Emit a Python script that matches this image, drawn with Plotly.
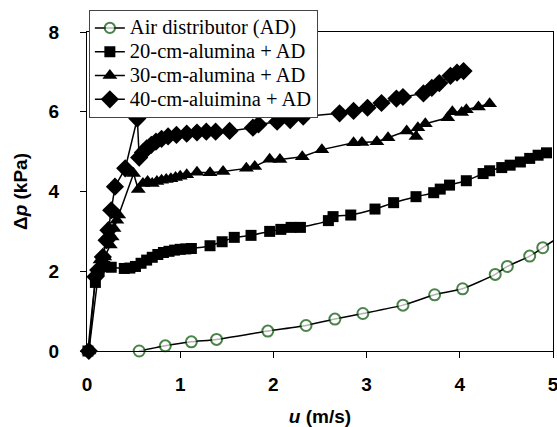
import plotly.graph_objects as go

# Air distributor (AD)
u_ad = [0.56, 0.84, 1.12, 1.39, 1.94, 2.35, 2.66, 2.96, 3.39, 3.73, 4.03, 4.38, 4.51, 4.75, 4.89, 5.04]
p_ad = [0.0, 0.13, 0.23, 0.29, 0.50, 0.64, 0.80, 0.94, 1.15, 1.41, 1.56, 1.92, 2.12, 2.38, 2.59, 2.82]
show_ad = [1] * 15 + [0]

# 20-cm-alumina + AD
u_20 = [0.01, 0.09, 0.13, 0.19, 0.26, 0.40, 0.46, 0.52, 0.58, 0.64, 0.70, 0.76, 0.82, 0.88, 0.94,
        1.00, 1.06, 1.12, 1.32, 1.45, 1.58, 1.76, 1.96, 2.08, 2.19, 2.29, 2.59, 2.64, 2.83, 3.09,
        3.29, 3.53, 3.72, 3.79, 3.89, 4.07, 4.25, 4.32, 4.45, 4.54, 4.65, 4.75, 4.84, 4.93]
p_20 = [0.0, 1.72, 2.00, 2.12, 2.10, 2.07, 2.08, 2.12, 2.20, 2.28, 2.35, 2.42, 2.47, 2.50, 2.53,
        2.55, 2.56, 2.57, 2.64, 2.74, 2.85, 2.90, 3.00, 3.05, 3.10, 3.10, 3.27, 3.37, 3.41, 3.56,
        3.72, 3.87, 3.97, 4.06, 4.16, 4.27, 4.45, 4.52, 4.60, 4.66, 4.74, 4.83, 4.91, 4.97]

# 30-cm-alumina + AD
u_30 = [0.02, 0.14, 0.19, 0.25, 0.27, 0.29, 0.32, 0.34, 0.50, 0.55, 0.60, 0.65, 0.70, 0.75, 0.80,
        0.85, 0.90, 0.95, 1.00, 1.07, 1.18, 1.32, 1.46, 1.71, 1.80, 1.96, 2.07, 2.31, 2.52, 2.86,
        2.95, 3.11, 3.23, 3.43, 3.53, 3.55, 3.63, 3.87, 3.92, 4.02, 4.07, 4.20, 4.32]
p_30 = [0.0, 2.28, 2.36, 2.66, 2.86, 3.07, 3.28, 3.41, 4.45, 4.05, 4.20, 4.25, 4.20, 4.25, 4.28,
        4.30, 4.32, 4.35, 4.38, 4.42, 4.48, 4.47, 4.50, 4.58, 4.63, 4.81, 4.80, 4.87, 5.05, 5.22,
        5.23, 5.25, 5.35, 5.52, 5.38, 5.60, 5.70, 5.85, 6.00, 5.98, 6.05, 6.12, 6.20]

# 40-cm-aluimina + AD
u_40 = [0.02, 0.09, 0.12, 0.17, 0.21, 0.23, 0.26, 0.30, 0.41, 0.54, 0.56, 0.60, 0.64, 0.69, 0.74,
        0.80, 0.87, 0.96, 1.07, 1.18, 1.28, 1.38, 1.53, 1.78, 1.84, 2.04, 2.18, 2.32, 2.71, 2.86,
        3.01, 3.16, 3.32, 3.39, 3.61, 3.70, 3.78, 3.90, 3.97, 4.04]
p_40 = [0.0, 1.86, 2.03, 2.36, 2.78, 3.03, 3.53, 4.12, 4.58, 5.83, 4.85, 4.98, 5.08, 5.17, 5.25,
        5.32, 5.38, 5.42, 5.45, 5.48, 5.50, 5.50, 5.52, 5.60, 5.68, 5.75, 5.79, 5.88, 5.96, 6.02,
        6.10, 6.22, 6.33, 6.37, 6.46, 6.60, 6.72, 6.90, 6.98, 7.02]

names = ["Air distributor (AD)", "20-cm-alumina + AD", "30-cm-alumina + AD", "40-cm-aluimina + AD"]
x_ticks = [0, 1, 2, 3, 4, 5]
y_ticks = [0, 2, 4, 6, 8]


def legend_name(s):
    return '<span style="font-size:20.5px">' + s + '</span>'


fig = go.Figure()
smooth = dict(color="black", width=1.5, shape="spline", smoothing=0.5)
straight = dict(color="black", width=1.5, shape="linear")

fig.add_trace(go.Scatter(
    x=u_ad, y=p_ad, name=legend_name(names[0]), mode="lines+markers", line=smooth, cliponaxis=False,
    marker=dict(symbol="circle", size=[11 * s for s in show_ad], color="white",
                line=dict(color="#005000", width=2))))
fig.add_trace(go.Scatter(
    x=u_20, y=p_20, name=legend_name(names[1]), mode="lines+markers", line=smooth, cliponaxis=False,
    marker=dict(symbol="square", size=11, color="black")))
fig.add_trace(go.Scatter(
    x=u_30, y=p_30, name=legend_name(names[2]), mode="lines+markers", line=straight, cliponaxis=False,
    marker=dict(symbol="triangle-up", size=13, color="black")))
fig.add_trace(go.Scatter(
    x=u_40, y=p_40, name=legend_name(names[3]), mode="lines+markers", line=straight, cliponaxis=False,
    marker=dict(symbol="diamond", size=14, color="black")))

axis_common = dict(showline=True, linecolor="black", linewidth=1, mirror=True,
                   showgrid=False, zeroline=False, ticks="outside", ticklen=6,
                   tickcolor="black", automargin=False, ticklabeloverflow="allow",
                   tickfont=dict(family="Liberation Sans, Arial", size=19, color="black", weight="bold"))

fig.update_xaxes(range=[0, 5], tickvals=x_ticks, ticklabelstandoff=10,
                 title=dict(text="<b><i>u</i> (m/s)</b>", standoff=24,
                            font=dict(family="Liberation Sans, Arial", size=19, color="black")),
                 **axis_common)
fig.update_yaxes(range=[0, 8], tickvals=y_ticks, ticklabelstandoff=17,
                 title=dict(text="<b>Δ<i>p</i> (kPa)</b>", standoff=15,
                            font=dict(family="Liberation Sans, Arial", size=19, color="black")),
                 **axis_common)

fig.update_layout(
    width=557, height=427,
    margin=dict(l=87, r=4, t=32, b=76),
    paper_bgcolor="white", plot_bgcolor="white",
    showlegend=True,
    legend=dict(x=0.004, y=1.069, xanchor="left", yanchor="top",
                bgcolor="white", bordercolor="#444", borderwidth=1,
                font=dict(family="Liberation Serif, Times New Roman", size=16, color="black"),
                tracegroupgap=0),
)

fig.write_html("out.html", config={"displayModeBar": False},
               post_script="document.body.style.margin='0px';")
